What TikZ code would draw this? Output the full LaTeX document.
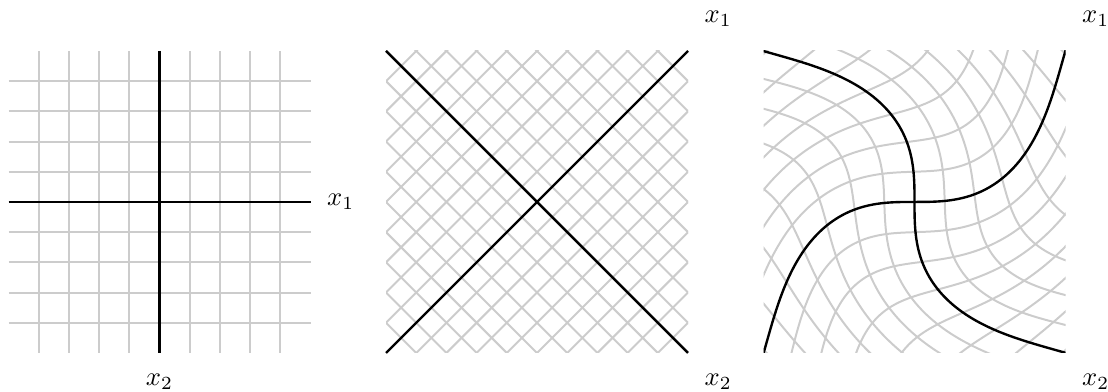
\documentclass[tikz,border=0pt]{standalone}
\begin{document}
\begin{tikzpicture}[
  gridline/.style={draw=black!20, line width=0.75pt},
  axisline/.style={draw=black, line width=0.9pt},
  lbl/.style={inner sep=0pt},
  declare function={th(\r)=53.8*(1-exp(-\r*\r/4.41));}
]
\useasboundingbox (-2.113,-2.517) rectangle (12.563,2.675);
% ---------- panel 1: Cartesian grid ----------
\begin{scope}
  \foreach \k in {-4,...,4} {
    \draw[gridline] (0.4*\k,-2) -- (0.4*\k,2);
    \draw[gridline] (-2,0.4*\k) -- (2,0.4*\k);
  }
  \coordinate (p1l) at (-2,0);
  \coordinate (p1r) at (2,0);
  \coordinate (p1t) at (0,2);
  \coordinate (p1b) at (0,-2);
  \draw[axisline] (p1l) -- (p1r);
  \draw[axisline] (p1t) -- (p1b);
\end{scope}
\node[lbl] (a1x1) at (2.4,0) {$x_1$};
\node[lbl] (a1x2) at (0,-2.38) {$x_2$};
% ---------- panel 2: rotated grid ----------
\begin{scope}[shift={(5,0)}]
  \begin{scope}
    \clip (-2,-2) rectangle (2,2);
    \foreach \k in {-9,...,9} {
      \draw[gridline] ({0.2*\k-3},{0.2*\k+3}) -- ({0.2*\k+3},{0.2*\k-3});
      \draw[gridline] ({0.2*\k-3},{-0.2*\k-3}) -- ({0.2*\k+3},{-0.2*\k+3});
    }
  \end{scope}
  \coordinate (p2bl) at (-2,-2);
  \coordinate (p2tr) at (2,2);
  \coordinate (p2tl) at (-2,2);
  \coordinate (p2br) at (2,-2);
  \draw[axisline] (p2bl) -- (p2tr);
  \draw[axisline] (p2tl) -- (p2br);
\end{scope}
\node[lbl] (a2x1) at (7.4,2.42) {$x_1$};
\node[lbl] (a2x2) at (7.4,-2.38) {$x_2$};
% ---------- panel 3: warped grid ----------
\begin{scope}[shift={(10,0)}]
  \begin{scope}
    \clip (-2,-2) rectangle (2,2);
    \foreach \c in {-2.8,-2.4,-2.0,-1.6,-1.2,-0.8,-0.4,0.4,0.8,1.2,1.6,2.0,2.4,2.8} {
      \draw[gridline] plot[domain=-2.9:2.9, samples=90, smooth, variable=\t]
        ({\t*cos(th(veclen(\t,\c))) - \c*sin(th(veclen(\t,\c)))},
         {\t*sin(th(veclen(\t,\c))) + \c*cos(th(veclen(\t,\c)))});
      \draw[gridline] plot[domain=-2.9:2.9, samples=90, smooth, variable=\t]
        ({\c*cos(th(veclen(\t,\c))) - \t*sin(th(veclen(\t,\c)))},
         {\c*sin(th(veclen(\t,\c))) + \t*cos(th(veclen(\t,\c)))});
    }
    \draw[axisline] plot[domain=-2.9:2.9, samples=90, smooth, variable=\t]
      ({\t*cos(th(abs(\t)))},{\t*sin(th(abs(\t)))});
    \draw[axisline] plot[domain=-2.9:2.9, samples=90, smooth, variable=\t]
      ({-\t*sin(th(abs(\t)))},{\t*cos(th(abs(\t)))});
  \end{scope}
\end{scope}
\node[lbl] (a3x1) at (12.4,2.42) {$x_1$};
\node[lbl] (a3x2) at (12.4,-2.38) {$x_2$};
\end{tikzpicture}
\end{document}
